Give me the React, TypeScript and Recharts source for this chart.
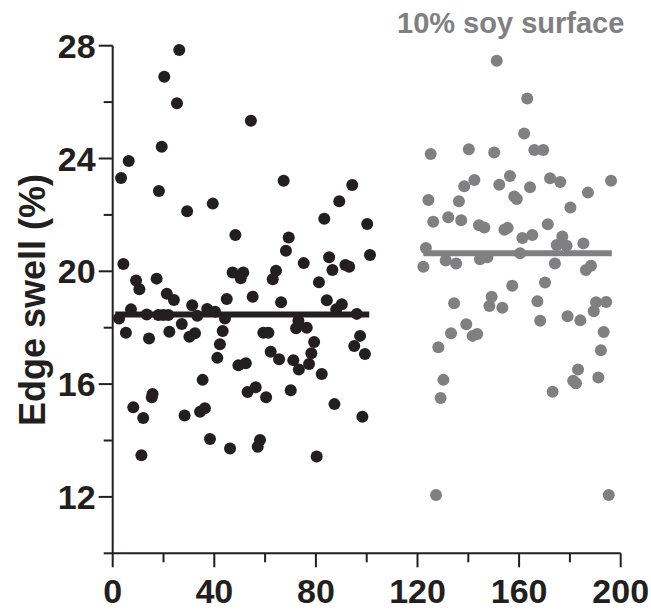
import {
  ScatterChart,
  Scatter,
  XAxis,
  YAxis,
  ReferenceLine,
} from "recharts";

// Pontos: [x, edge swell %]
const controlPoints: [number, number][] = [
  [26.2, 27.85], [20.3, 26.9], [25.3, 25.96], [54.4, 25.34], [19.3, 24.42],
  [6.3, 23.91], [3.3, 23.31], [67.3, 23.21], [94.3, 23.06], [18.2, 22.85],
  [89.2, 22.48], [39.4, 22.4], [29.3, 22.13], [83.3, 21.86], [100.2, 21.68],
  [48.3, 21.29], [69.3, 21.2], [68.2, 20.73], [101.3, 20.58], [4.2, 20.26],
  [75.2, 20.29], [85.2, 20.5], [86.5, 20.05], [91.6, 20.22], [93.1, 20.16],
  [9.2, 19.67], [10.5, 19.36], [17.3, 19.74], [21.3, 19.2], [24.1, 18.98],
  [47.2, 19.96], [51.4, 19.96], [50.4, 19.75], [64.3, 20.02], [63.0, 19.72],
  [81.2, 19.61], [44.9, 19.02], [55.1, 19.1], [66.3, 18.9], [84.3, 18.97],
  [90.2, 18.83], [7.2, 18.65], [2.5, 18.33], [13.4, 18.47], [18.0, 18.45],
  [19.9, 18.45], [21.9, 18.45], [31.3, 18.8], [33.3, 18.42], [37.2, 18.66],
  [40.3, 18.57], [44.2, 18.33], [73.1, 18.25], [88.0, 18.65], [96.1, 18.49],
  [5.2, 17.82], [14.3, 17.62], [22.3, 17.86], [27.2, 18.13], [30.2, 17.68],
  [32.4, 17.8], [43.3, 17.88], [42.2, 17.41], [41.2, 16.93], [59.3, 17.82],
  [61.3, 17.82], [72.2, 17.98], [76.4, 18.0], [79.3, 17.49], [62.2, 17.15],
  [65.5, 16.88], [71.1, 16.85], [73.3, 16.52], [78.2, 17.09], [77.3, 16.71],
  [82.3, 16.36], [97.4, 17.71], [95.1, 17.35], [99.3, 17.07], [49.5, 16.67],
  [52.4, 16.74], [35.4, 16.15], [15.7, 15.65], [15.4, 15.53], [8.1, 15.18],
  [12.0, 14.8], [28.3, 14.89], [34.4, 15.02], [36.3, 15.14], [53.1, 15.72],
  [56.3, 15.89], [60.4, 15.53], [70.1, 15.78], [87.3, 15.29], [98.3, 14.84],
  [38.3, 14.05], [46.2, 13.72], [58.0, 14.02], [57.1, 13.78], [11.3, 13.48],
  [80.3, 13.43],
];

const soyPoints: [number, number][] = [
  [151.2, 27.47], [163.2, 26.13], [162.0, 24.89], [166.0, 24.3], [169.5, 24.3],
  [125.2, 24.16], [140.2, 24.33], [150.2, 24.21], [156.4, 23.38], [142.4, 23.24],
  [138.4, 23.02], [152.2, 23.07], [164.3, 22.98], [172.2, 23.3], [176.2, 23.17],
  [196.2, 23.21], [187.1, 22.79], [124.3, 22.53], [136.3, 22.48], [158.1, 22.65],
  [159.1, 22.56], [180.2, 22.26], [126.2, 21.76], [132.1, 21.92], [137.2, 21.81],
  [144.2, 21.63], [146.3, 21.55], [154.2, 21.47], [155.5, 21.54], [171.3, 21.67],
  [161.3, 21.18], [165.2, 21.29], [177.0, 21.23], [174.8, 20.93], [178.7, 20.91],
  [185.3, 20.99], [123.3, 20.83], [160.4, 20.64], [131.1, 20.38], [135.2, 20.28],
  [144.6, 20.43], [147.5, 20.5], [122.3, 20.16], [174.1, 20.28], [186.3, 20.05],
  [188.3, 20.2], [157.3, 19.49], [170.2, 19.6], [134.4, 18.87], [149.2, 19.1],
  [148.3, 18.77], [153.4, 18.71], [167.2, 18.94], [168.3, 18.25], [179.1, 18.41],
  [184.1, 18.26], [190.3, 18.9], [194.3, 18.91], [189.4, 18.58], [193.3, 17.85],
  [192.2, 17.2], [183.2, 16.52], [181.3, 16.12], [182.4, 16.03], [191.2, 16.23],
  [173.2, 15.73], [139.2, 18.12], [133.2, 17.8], [141.7, 17.71], [143.5, 17.78],
  [128.2, 17.31], [130.2, 16.15], [129.1, 15.51], [127.3, 12.07], [195.3, 12.07],
];

// Médias (linhas horizontais): [xInicio, xFim, y]
const controlMean = [1, 101, 18.47];
const soyMean = [122.3, 196.5, 20.64];

const xTicks = [0, 20, 40, 60, 80, 100, 120, 140, 160, 180, 200];
const xLabelTicks = [0, 40, 80, 120, 160, 200];
const yTicks = [10, 12, 14, 16, 18, 20, 22, 24, 26, 28];
const yLabelTicks = [12, 16, 20, 24, 28];

const INK = "#231f20";
const GRAY = "#808083";
const TICK_FONT = "'Liberation Sans Narrow', 'Arial Narrow', 'Liberation Sans', Arial, sans-serif";
const LABEL_FONT = "'Liberation Sans', Arial, Helvetica, sans-serif";

const controlData = controlPoints.map(([x, y]) => ({ x, y }));
const soyData = soyPoints.map(([x, y]) => ({ x, y }));

const XTick = (props: any) => {
  const { x, y, payload } = props;
  const major = xLabelTicks.includes(payload.value);
  return (
    <g>
      <line x1={x} x2={x} y1={y} y2={y + (major ? 14 : 9)} stroke={INK} strokeWidth={2} />
      {major && (
        <text
          x={x}
          y={y + 50}
          textAnchor="middle"
          fill={INK}
          fontSize={34}
          fontWeight="bold"
          fontFamily={TICK_FONT}
        >
          {payload.value}
        </text>
      )}
    </g>
  );
};

const YTick = (props: any) => {
  const { x, y, payload } = props;
  const major = yLabelTicks.includes(payload.value);
  return (
    <g>
      <line x1={x - (major ? 14 : 9)} x2={x} y1={y} y2={y} stroke={INK} strokeWidth={2} />
      {major && (
        <text
          x={x - 17}
          y={y + 12}
          textAnchor="end"
          fill={INK}
          fontSize={34}
          fontWeight="bold"
          fontFamily={TICK_FONT}
        >
          {payload.value}
        </text>
      )}
    </g>
  );
};

const Dot = (color: string) => (props: any) => (
  <circle cx={props.cx} cy={props.cy} r={6} fill={color} />
);

export default function App() {
  return (
    <div style={{ position: "absolute", left: 0, top: 0, width: 651, height: 616, background: "#fff" }}>
      <ScatterChart
        width={651}
        height={616}
        margin={{ top: 45.7, right: 30.3, bottom: 0, left: 0 }}
      >
        <XAxis
          type="number"
          dataKey="x"
          domain={[0, 200]}
          ticks={xTicks}
          interval={0}
          height={62.7}
          tickSize={0}
          tickMargin={0}
          tickLine={false}
          axisLine={{ stroke: INK, strokeWidth: 2 }}
          tick={XTick}
        />
        <YAxis
          type="number"
          dataKey="y"
          domain={[10, 28]}
          ticks={yTicks}
          interval={0}
          width={112.7}
          tickSize={0}
          tickMargin={0}
          tickLine={false}
          axisLine={{ stroke: INK, strokeWidth: 2 }}
          tick={YTick}
        />
        <Scatter data={controlData} fill={INK} shape={Dot(INK)} isAnimationActive={false} />
        <Scatter data={soyData} fill={GRAY} shape={Dot(GRAY)} isAnimationActive={false} />
        <ReferenceLine
          segment={[
            { x: controlMean[0], y: controlMean[2] },
            { x: controlMean[1], y: controlMean[2] },
          ]}
          stroke={INK}
          strokeWidth={6}
        />
        <ReferenceLine
          segment={[
            { x: soyMean[0], y: soyMean[2] },
            { x: soyMean[1], y: soyMean[2] },
          ]}
          stroke={GRAY}
          strokeWidth={6}
        />
      </ScatterChart>
      <div
        style={{
          position: "absolute",
          left: 397,
          top: 9,
          fontSize: 29,
          lineHeight: "29px",
          fontWeight: "bold",
          color: GRAY,
          fontFamily: LABEL_FONT,
          whiteSpace: "nowrap",
        }}
      >
        10% soy surface
      </div>
      <div
        style={{
          position: "absolute",
          left: 33 - 160,
          top: 300 - 20,
          width: 320,
          height: 40,
          lineHeight: "40px",
          textAlign: "center",
          fontSize: 36,
          fontWeight: "bold",
          color: INK,
          fontFamily: LABEL_FONT,
          transform: "rotate(-90deg)",
          whiteSpace: "nowrap",
        }}
      >
        Edge swell (%)
      </div>
    </div>
  );
}
